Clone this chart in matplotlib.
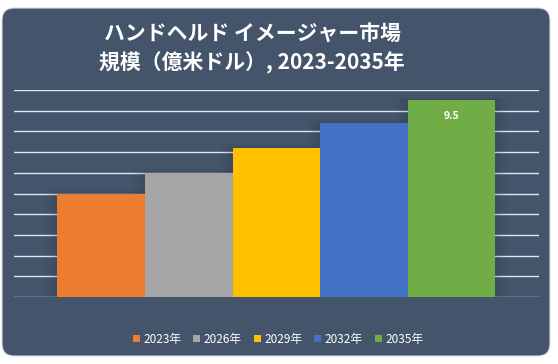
import matplotlib
matplotlib.use("Agg")
import matplotlib.pyplot as plt
from matplotlib.patches import FancyBboxPatch, Patch, Rectangle

plt.rcParams['font.family'] = ['Noto Sans CJK JP', 'DejaVu Sans']

categories = ["2023年", "2026年", "2029年", "2032年", "2035年"]
values = [5.0, 6.0, 7.2, 8.4, 9.5]
colors = ["#ED7D31", "#A5A5A5", "#FFC000", "#4472C4", "#70AD47"]
title_lines = ["ハンドヘルド イメージャー市場", "規模（億米ドル）, 2023-2035年"]
label_value = "9.5"

W, H = 558, 364
fig = plt.figure(figsize=(W / 100, H / 100), dpi=100)
fig.patch.set_facecolor("white")

panel_color = "#44546A"
panel = FancyBboxPatch((2 / W, 8 / H), 548 / W, 348 / H,
                       boxstyle="round,pad=0,rounding_size=0.022",
                       transform=fig.transFigure, facecolor=panel_color,
                       edgecolor="#d8dde4", linewidth=0.8, zorder=-5,
                       mutation_aspect=W / H)
fig.patches.append(panel)

ax = fig.add_axes([13.6 / W, (H - 297) / H, (539 - 13.6) / W, (297 - 90) / H])
ax.set_zorder(2)
ax.set_facecolor("none")
for s in ax.spines.values():
    s.set_visible(False)

x = list(range(len(categories)))
# soft shadow around bars
for xi, v in zip(x, values):
    for k, a in zip([0.14, 0.09, 0.05], [0.04, 0.05, 0.06]):
        ax.add_patch(Rectangle((xi - 0.5 - k, 0), 1 + 2 * k, v + k * 1.2,
                               facecolor="#1f2836", alpha=a, zorder=1.5, linewidth=0))

ax.bar(x, values, width=1.0, color=colors, zorder=3, linewidth=0)

ax.set_xlim(-1, 5)
ax.set_ylim(0, 10)
ax.set_yticks(range(0, 11))
ax.yaxis.grid(True, color="#dde6f3", linewidth=1.0, zorder=1)
ax.set_axisbelow(True)
ax.tick_params(left=False, bottom=False, labelleft=False, labelbottom=False)

ax.annotate(label_value, (x[-1], values[-1]), xytext=(0, -11), textcoords="offset points",
            ha="center", va="center", color="white", fontsize=7.5, fontweight="bold",
            zorder=5)

fig.text(252 / W, 1 - 33 / H, title_lines[0], ha="center", va="center",
         color="white", fontsize=15, fontweight="bold")
fig.text(252 / W, 1 - 63 / H, title_lines[1], ha="center", va="center",
         color="white", fontsize=15, fontweight="bold")

handles = [Patch(facecolor=c, edgecolor="none") for c in colors]
fig.legend(handles, categories, loc="center", bbox_to_anchor=(278 / W, 1 - 339 / H),
           ncol=5, frameon=False, fontsize=8.5, labelcolor="white",
           handlelength=0.6, handleheight=0.6, handletextpad=0.3, columnspacing=1.0)

fig.savefig("out.png", dpi=100, facecolor="white")
